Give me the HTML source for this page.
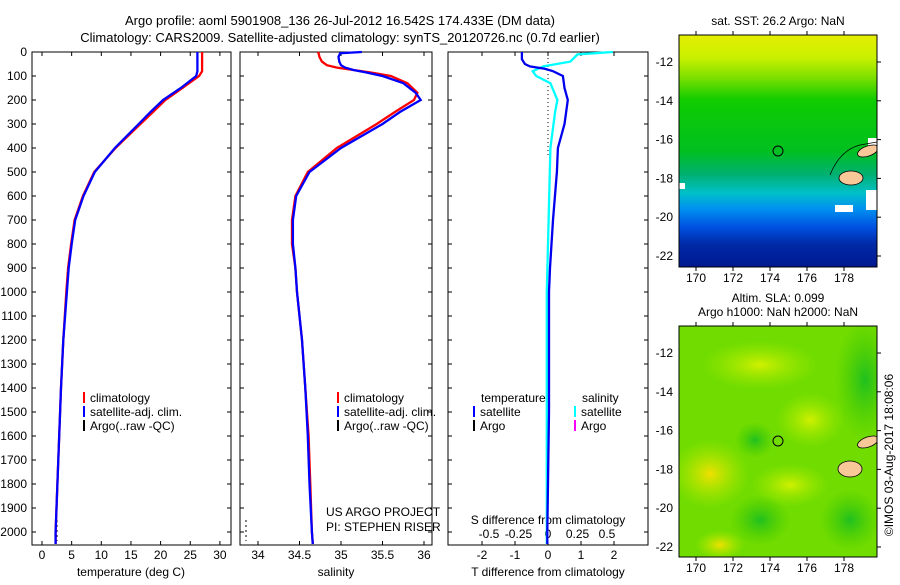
<!DOCTYPE html>
<html><head><meta charset="utf-8"><style>
body{margin:0;background:#fff;width:900px;height:580px;overflow:hidden;font-family:"Liberation Sans",sans-serif}
svg text{font-family:"Liberation Sans",sans-serif;font-size:12px;fill:#000}
</style></head><body>
<svg id="c" width="900" height="580" xmlns="http://www.w3.org/2000/svg">
<defs>
<linearGradient id="sst" x1="0" y1="0" x2="0" y2="1">
<stop offset="0" stop-color="#e6ee00"/><stop offset="0.1" stop-color="#c8f000"/><stop offset="0.18" stop-color="#80e000"/>
<stop offset="0.28" stop-color="#10cc00"/><stop offset="0.5" stop-color="#00c020"/><stop offset="0.6" stop-color="#00b070"/>
<stop offset="0.68" stop-color="#00c0c8"/><stop offset="0.75" stop-color="#0090f0"/><stop offset="0.83" stop-color="#0050e0"/>
<stop offset="0.9" stop-color="#002aa8"/><stop offset="1" stop-color="#001890"/></linearGradient>
<radialGradient id="p1"><stop offset="0" stop-color="#f0e000"/><stop offset="1" stop-color="#b0ee00" stop-opacity="0"/></radialGradient>
<radialGradient id="p2"><stop offset="0" stop-color="#d0f000"/><stop offset="1" stop-color="#a0ea00" stop-opacity="0"/></radialGradient>
<radialGradient id="g1"><stop offset="0" stop-color="#20c020"/><stop offset="1" stop-color="#40c800" stop-opacity="0"/></radialGradient>
<clipPath id="cm1"><rect x="679" y="35" width="198" height="232"/></clipPath>
<clipPath id="cm2"><rect x="679" y="326" width="198" height="231"/></clipPath>
</defs>
<g>
<text x="340" y="25" text-anchor="middle" style="font-size:13px">Argo profile: aoml 5901908_136 26-Jul-2012 16.542S 174.433E (DM data)</text>
<text x="340" y="42" text-anchor="middle" style="font-size:13px">Climatology: CARS2009. Satellite-adjusted climatology: synTS_20120726.nc (0.7d earlier)</text>
</g>
<g id="axes"></g>
<g id="maps">
<text x="778" y="25" text-anchor="middle">sat. SST: 26.2 Argo: NaN</text>
<g clip-path="url(#cm1)">
<rect x="679" y="35" width="198" height="232" fill="url(#sst)"/>
<rect x="679" y="183" width="6" height="6" fill="#fff"/><rect x="868" y="138" width="9" height="10" fill="#fff"/>
<rect x="866" y="190" width="11" height="20" fill="#fff"/><rect x="835" y="205" width="18" height="7" fill="#fff"/>
<ellipse cx="851" cy="178" rx="12" ry="7" fill="#f8c898" stroke="#000" stroke-width="0.8"/>
<ellipse cx="868" cy="151" rx="11" ry="5" fill="#f8c898" stroke="#000" stroke-width="0.8" transform="rotate(-20 868 151)"/>
<path d="M830 175 Q840 150 860 145 L877 142" fill="none" stroke="#000" stroke-width="0.7"/>
</g>
<circle cx="778" cy="151" r="5" fill="none" stroke="#000"/>
<rect x="679" y="35" width="198" height="232" fill="none" stroke="#000"/>
<text x="778" y="302" text-anchor="middle">Altim. SLA: 0.099</text>
<text x="778" y="316" text-anchor="middle">Argo h1000: NaN h2000: NaN</text>
<g clip-path="url(#cm2)">
<rect x="679" y="326" width="198" height="231" fill="#70dc00"/>
<ellipse cx="710" cy="474" rx="40" ry="35" fill="url(#p1)"/>
<ellipse cx="810" cy="420" rx="35" ry="28" fill="url(#p2)"/>
<ellipse cx="760" cy="365" rx="60" ry="25" fill="url(#p2)"/>
<ellipse cx="790" cy="485" rx="40" ry="22" fill="url(#p2)"/>
<ellipse cx="720" cy="545" rx="25" ry="15" fill="url(#p1)"/>
<ellipse cx="760" cy="520" rx="30" ry="25" fill="url(#g1)"/>
<ellipse cx="865" cy="380" rx="30" ry="60" fill="url(#g1)"/>
<ellipse cx="850" cy="520" rx="30" ry="30" fill="url(#g1)"/>
<ellipse cx="755" cy="440" rx="20" ry="18" fill="url(#g1)"/>
<ellipse cx="850" cy="469" rx="12" ry="8" fill="#f8c898" stroke="#000" stroke-width="0.8"/>
<ellipse cx="868" cy="442" rx="11" ry="5" fill="#f8c898" stroke="#000" stroke-width="0.8" transform="rotate(-20 868 442)"/>
</g>
<circle cx="778" cy="441" r="5" fill="none" stroke="#000"/>
<rect x="679" y="326" width="198" height="231" fill="none" stroke="#000"/>
<text transform="translate(893 455) rotate(-90)" text-anchor="middle">©IMOS 03-Aug-2017 18:08:06</text>
</g>
</svg>
<script>
var depths=[0,20,40,60,80,100,150,200,250,300,400,500,600,700,800,900,1000,1200,1400,1600,1800,2000,2050];
var tClim=[27,27,27,27,27,26.5,23.7,20.8,18.7,16.6,12.4,8.8,6.9,5.5,4.9,4.4,4.1,3.6,3.2,2.9,2.6,2.3,2.3];
var tSat=[26.2,26.2,26.2,26.2,26.2,26.0,23.4,20.4,18.3,16.3,12.3,8.9,7.0,5.6,5.0,4.5,4.2,3.6,3.2,2.9,2.6,2.3,2.3];
var sDepths=[0,5,20,40,55,65,75,85,100,130,170,200,250,300,400,500,600,700,800,900,1000,1200,1400,1600,1800,2000,2050];
var sClim=[34.72,34.73,34.74,34.77,34.83,34.95,35.15,35.35,35.6,35.8,35.92,35.88,35.65,35.43,34.95,34.6,34.45,34.41,34.41,34.45,34.47,34.53,34.57,34.61,34.63,34.65,34.66];
var sSat=[35.25,34.99,34.97,34.98,35.0,35.05,35.15,35.3,35.5,35.75,35.9,35.96,35.71,35.5,35.0,34.62,34.46,34.42,34.42,34.45,34.47,34.53,34.57,34.6,34.62,34.65,34.66];
var dTdepths=[0,30,50,60,70,80,100,150,200,300,400,500,700,900,1000,1500,2000,2050];
var dT=[-0.79,-0.79,-0.7,-0.55,-0.1,0.15,0.45,0.5,0.6,0.5,0.3,0.27,0.15,0.06,0.03,0.03,-0.02,-0.02];
var dSdepths=[0,5,10,40,60,80,100,130,200,250,400,600,1000,2000,2050];
var dS=[0.55,0.4,0.25,0.19,-0.04,-0.13,-0.1,0.02,0.08,0.06,0.02,0.01,-0.01,-0.01,-0.01];
var tTicks=[0,5,10,15,20,25,30];
var sTicks=[34,34.5,35,35.5,36];
var dTTicks=[-2,-1,0,1,2];
var dSTicks=[-0.5,-0.25,0,0.25,0.5];
var depthTicks=[0,100,200,300,400,500,600,700,800,900,1000,1100,1200,1300,1400,1500,1600,1700,1800,1900,2000];
var lonTicks=[170,172,174,176,178];
var latTicks=[-12,-14,-16,-18,-20,-22];

var NS='http://www.w3.org/2000/svg', svg=document.getElementById('c'), g=document.getElementById('axes');
function mk(t,a,p){var e=document.createElementNS(NS,t);for(var k in a)e.setAttribute(k,a[k]);(p||g).appendChild(e);return e;}
function Y(d){return 52+d*0.24;}
var P=[{x0:32,x1:231,fx:function(v){return 42+v*5.93;}},{x0:240,x1:432,fx:function(v){return 258+(v-34)*83;}},{x0:448,x1:648,fx:function(v){return 548+v*33;}}];
function line(xs,ds,fx,col,name){var pts=[];for(var i=0;i<xs.length;i++)pts.push(fx(xs[i]).toFixed(1)+','+Y(ds[i]).toFixed(1));
var e=mk('polyline',{points:pts.join(' '),fill:'none',stroke:col,'stroke-width':2.3});

}
function txt(x,y,s,anc,name){var e=mk('text',{x:x,y:y,'text-anchor':anc||'start'});e.textContent=s;

return e;}
P.forEach(function(p,i){
 var r=mk('rect',{x:p.x0,y:52,width:p.x1-p.x0,height:493,fill:'none',stroke:'#000'});
 
 
 depthTicks.forEach(function(d){mk('line',{x1:p.x0,x2:p.x0+4,y1:Y(d),y2:Y(d),stroke:'#000'});mk('line',{x1:p.x1-4,x2:p.x1,y1:Y(d),y2:Y(d),stroke:'#000'});});
});
depthTicks.forEach(function(d){txt(27,Y(d)+4,String(d),'end','depth-tick-label');});
function xt(p,ticks,name){ticks.forEach(function(v){var x=p.fx(v);mk('line',{x1:x,x2:x,y1:52,y2:56,stroke:'#000'});mk('line',{x1:x,x2:x,y1:541,y2:545,stroke:'#000'});txt(x,559,String(v),'middle',name);});}
xt(P[0],tTicks,'temperature-tick-label');
xt(P[1],sTicks,'salinity-tick-label');
xt(P[2],dTTicks,'t-diff-tick-label');
dSTicks.forEach(function(v){txt(548+v*118,538,String(v),'middle','s-diff-tick-label');});
txt(131,576,'temperature (deg C)','middle','temperature-axis-title');
txt(336,576,'salinity','middle','salinity-axis-title');
txt(548,576,'T difference from climatology','middle','t-diff-axis-title');
txt(548,524,'S difference from climatology','middle','s-diff-axis-title');
mk('line',{x1:548,x2:548,y1:54,y2:156,stroke:'#000','stroke-dasharray':'1,3'});
mk('line',{x1:57,x2:57,y1:520,y2:541,stroke:'#000','stroke-dasharray':'2,3'});
mk('line',{x1:246,x2:246,y1:520,y2:541,stroke:'#000','stroke-dasharray':'2,3'});
line(tClim,depths,P[0].fx,'#ff0000','temperature-climatology');
line(tSat,depths,P[0].fx,'#0000ff','temperature-satellite-adj');
line(sClim,sDepths,P[1].fx,'#ff0000','salinity-climatology');
line(sSat,sDepths,P[1].fx,'#0000ff','salinity-satellite-adj');
line(dS,dSdepths,function(v){return 548+v*118;},'#00ffff','s-diff-satellite');
line(dT,dTdepths,P[2].fx,'#0000ee','t-diff-satellite');
function leg(x,y,col,s){mk('rect',{x:x,y:y-10,width:2,height:11,fill:col});txt(x+7,y,s,'start','legend-entry');}
[83,337].forEach(function(x){leg(x,402,'#ff0000','climatology');leg(x,416,'#0000ff','satellite-adj. clim.');leg(x,430,'#000','Argo(..raw -QC)');});
txt(481,402,'temperature','start','legend-header');txt(582,402,'salinity','start','legend-header');
leg(473,416,'#0000ff','satellite');leg(473,430,'#000','Argo');
leg(574,416,'#00ffff','satellite');leg(574,430,'#ff00ff','Argo');
txt(326,516,'US ARGO PROJECT','start','project-label');txt(326,531,'PI: STEPHEN RISER','start','pi-label');
var mg=document.getElementById('maps');
[[35,267],[326,557]].forEach(function(m){
 lonTicks.forEach(function(v){var x=696+(v-170)*18.5;mk('line',{x1:x,x2:x,y1:m[0]-4,y2:m[0],stroke:'#000'},mg);mk('line',{x1:x,x2:x,y1:m[1],y2:m[1]+4,stroke:'#000'},mg);
  var t=mk('text',{x:x,y:m[1]+15,'text-anchor':'middle'},mg);t.textContent=v;
  
  });
 latTicks.forEach(function(v){var y=m[0]+27+(-12-v)*19.4;mk('line',{x1:877,x2:881,y1:y,y2:y,stroke:'#000'},mg);
  var t=mk('text',{x:673,y:y+4,'text-anchor':'end'},mg);t.textContent=v;
  
  });
});
</script>
</body></html>
